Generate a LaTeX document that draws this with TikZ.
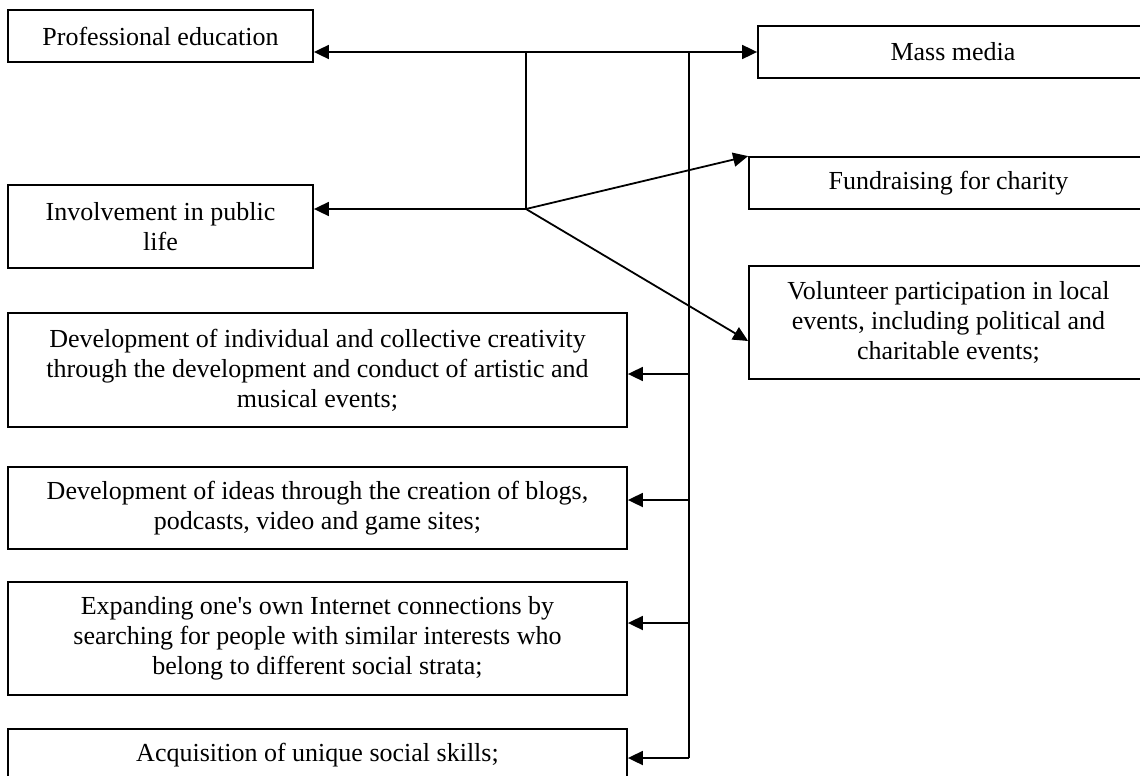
\documentclass[tikz,border=0pt]{standalone}
\usepackage{fontspec}
\setmainfont{Liberation Serif}[Ligatures=TeXOff]
\usetikzlibrary{arrows.meta}
\begin{document}
\begin{tikzpicture}[x=1pt,y=1pt,
  box/.style={draw, line width=1.8pt, inner sep=0pt, align=center, anchor=center,
    font=\fontsize{26}{30}\selectfont},
  link/.style={line width=1.8pt},
  arr/.style={line width=1.8pt, -{Triangle[length=15pt,width=14pt]}}]
\useasboundingbox (0,0) rectangle (1140,-776);
\node[box, minimum width=305pt, minimum height=52pt] (pe) at (160.5,-36) {Professional education};
\node[box, minimum width=390pt, minimum height=52pt] (mm) at (953,-52) {Mass media};
\node[box, minimum width=305pt, minimum height=83pt] (inv) at (160.5,-226.5) {Involvement in public\\life};
\node[box, minimum width=399pt, minimum height=52pt] (fr) at (948.5,-183) {Fundraising for charity};
\node[box, minimum width=399pt, minimum height=113pt] (vo) at (948.5,-322.5) {Volunteer participation in local\\events, including political and\\charitable events;};
\node[box, minimum width=619pt, minimum height=114pt] (cr) at (317.5,-370) {Development of individual and collective creativity\\through the development and conduct of artistic and\\musical events;};
\node[box, minimum width=619pt, minimum height=82pt] (id) at (317.5,-508) {Development of ideas through the creation of blogs,\\podcasts, video and game sites;};
\node[box, minimum width=619pt, minimum height=113pt] (ex) at (317.5,-638.5) {Expanding one's own Internet connections by\\searching for people with similar interests who\\belong to different social strata;};
\node[box, minimum width=619pt, minimum height=52pt] (aq) at (317.5,-755) {Acquisition of unique social skills;};
\coordinate (j1) at (526,-52);
\coordinate (j2) at (689,-52);
\coordinate (jc) at (526,-209);
\coordinate (tv) at (749,-341);
\coordinate (b1) at (689,-374);
\coordinate (b2) at (689,-500);
\coordinate (b3) at (689,-623);
\coordinate (jb) at (689,-758);
\draw[link] (j1) -- (jc);
\draw[link] (j2) -- (jb);
\draw[arr] (j1) -- (pe.east |- j1);
\draw[arr] (j1) -- (mm.west |- j1);
\draw[arr] (jc) -- (inv.east |- jc);
\draw[arr] (jc) -- (fr.north west);
\draw[arr] (jc) -- (vo.west |- tv);
\draw[arr] (b1) -- (cr.east |- b1);
\draw[arr] (b2) -- (id.east |- b2);
\draw[arr] (b3) -- (ex.east |- b3);
\draw[arr] (jb) -- (aq.east |- jb);
\end{tikzpicture}
\end{document}
